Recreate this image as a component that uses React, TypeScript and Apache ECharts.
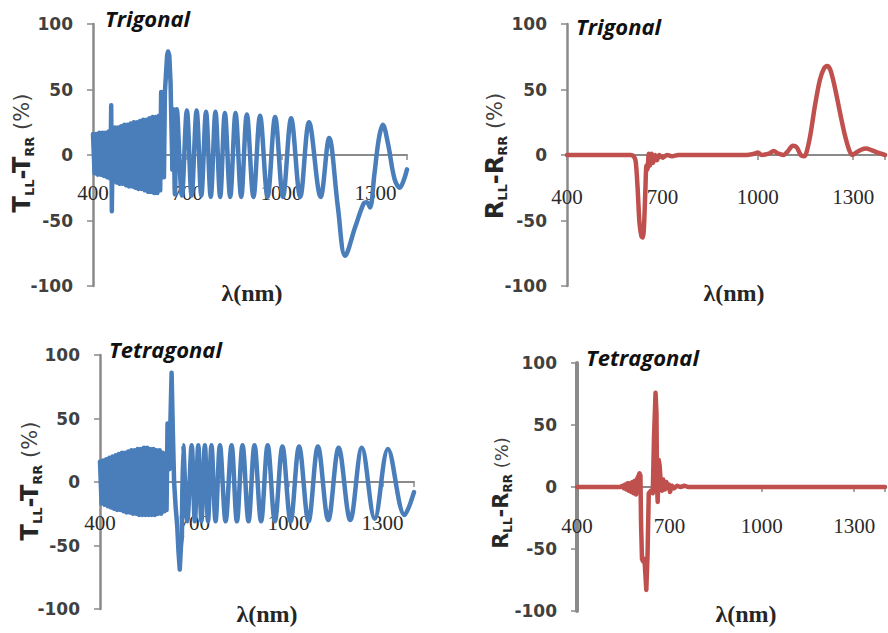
import React, { useEffect, useRef } from 'react';
import * as echarts from 'echarts';

// ---- data ----
const X_TICKS = [400, 700, 1000, 1300];
const Y_TICKS = [-100, -50, 0, 50, 100];
const PANEL_TITLES = ['Trigonal', 'Trigonal', 'Tetragonal', 'Tetragonal'];

// Trigonal transmission difference (dense band part)
const TL_BAND: [number, number][] = [
  [400, 16], [405, -14], [410, 16], [415, -15], [420, 17], [425, -15], [430, 17], [435, -16],
  [440, 17], [445, -17], [450, 18], [455, -18], [458, 38], [460, -43], [463, 20], [466, -20],
  [470, 21], [475, -21], [480, 21], [485, -22], [490, 22], [495, -22], [500, 23], [505, -23],
  [510, 23], [515, -24], [520, 24], [525, -24], [530, 25], [535, -25], [540, 25], [545, -26],
  [550, 26], [555, -26], [560, 27], [565, -27], [570, 27], [575, -28], [580, 28], [585, -28],
  [590, 29], [595, -29], [600, 29], [605, -29], [610, 30], [614, -27], [617, 48], [620, -17],
  [623, 48], [626, -17], [629, 48], [632, 60], [636, 76], [639, 79], [643, 76], [647, 55],
  [650, 20], [653, -11],
];
// Trigonal transmission difference (oscillating part)
const TL_OSC: [number, number][] = [
  [653, -11], [656, 35], [661, -30], [667, 35], [683, -31], [699, 34], [714, -31], [730, 34],
  [745, -31], [760, 33], [775, -32], [790, 33], [805, -32], [820, 32], [837, -32], [854, 32],
  [872, -32], [890, 31], [911, -32], [932, 30], [956, -32], [980, 29], [1005, -32], [1031, 28],
  [1060, -32], [1088, 25], [1125, -32], [1152, 13], [1180, -40], [1203, -77], [1235, -55],
  [1262, -37], [1272, -36], [1282, -40], [1296, -15], [1310, 12], [1323, 23], [1340, 8],
  [1360, -18], [1377, -25], [1390, -19], [1400, -11],
];
// Trigonal reflection difference
const TR_R: [number, number][] = [
  [400, 0], [500, 0], [600, 0], [610, -1], [616, -5], [622, -25], [628, -52], [634, -62],
  [638, -63], [642, -55], [646, -30], [650, -8], [653, -11], [657, 1], [661, -8], [666, 1],
  [671, -6], [677, 0], [683, -4], [690, 0], [700, -2], [715, 0], [730, -1], [750, 0], [900, 0],
  [960, 0], [990, 1], [1000, 2], [1012, 0], [1035, 1], [1050, 3], [1065, 1], [1080, 0],
  [1095, 3], [1110, 7], [1122, 6], [1135, 0], [1145, -1], [1152, 1], [1165, 15], [1180, 38],
  [1195, 57], [1208, 66], [1218, 68], [1228, 65], [1242, 52], [1258, 33], [1273, 16], [1287, 4],
  [1297, 0], [1310, 2], [1325, 4], [1340, 5], [1355, 4], [1375, 2], [1400, 0],
];
// Tetragonal transmission difference (dense band part)
const BL_BAND: [number, number][] = [
  [400, 16], [405, -17], [410, 17], [415, -18], [420, 18], [425, -19], [430, 19], [435, -20],
  [440, 20], [445, -21], [450, 21], [455, -22], [460, 22], [465, -22], [470, 23], [475, -23],
  [480, 23], [485, -24], [490, 24], [495, -24], [500, 25], [505, -25], [510, 25], [515, -25],
  [520, 26], [525, -26], [530, 26], [535, -26], [540, 27], [545, -26], [550, 27], [555, -26],
  [560, 26], [565, -26], [570, 26], [575, -26], [580, 25], [585, -25], [590, 25], [595, -25],
  [600, 23], [605, -23], [608, 21], [612, -22], [615, 46], [618, 40], [621, 10], [624, 45],
  [628, 86], [632, 40], [636, 0], [641, -20], [646, -35], [650, -55], [654, -69], [658, -50],
  [661, -43],
];
// Tetragonal transmission difference (oscillating part)
const BL_OSC: [number, number][] = [
  [661, -43], [665, 29], [678, -31], [692, 29], [702, -31], [713, 29], [723, -31], [734, 29],
  [744, -31], [755, 29], [768, -31], [782, 29], [800, -31], [819, 29], [836, -31], [854, 29],
  [873, -31], [892, 29], [913, -31], [934, 29], [957, -31], [981, 28], [1007, -31], [1034, 28],
  [1064, -31], [1094, 28], [1127, -30], [1160, 27], [1197, -30], [1234, 27], [1275, -29],
  [1317, 26], [1370, -26], [1400, -8],
];
// Tetragonal reflection difference
const BR_R: [number, number][] = [
  [400, 0], [450, 0], [500, 0], [540, 0], [548, 1], [552, -1], [556, 2], [560, -2], [564, 3],
  [568, -3], [572, 3], [576, -4], [580, 4], [584, -5], [588, 5], [592, -6], [596, 7], [600, 9],
  [603, 11], [606, 9], [608, -30], [611, -58], [615, -60], [619, -58], [625, -83], [629, -55],
  [633, -5], [640, -3], [646, -5], [650, 40], [655, 76], [658, 60], [660, 0], [662, -12],
  [665, 22], [668, 18], [672, 4], [676, -3], [680, 6], [685, -2], [690, 4], [695, -1], [699, 2],
  [702, -4], [708, 1], [715, -1], [725, 1], [735, 0], [750, 1], [760, 0], [1400, 0],
];

// ---- layout ----
const GRIDS = [
  { left: 93, top: 24, width: 314, height: 262 },
  { left: 567, top: 24, width: 318, height: 262 },
  { left: 100, top: 355, width: 314, height: 254 },
  { left: 577, top: 363, width: 314, height: 248 },
];
// x labels sit just below the zero line (offset from the grid bottom)
const X_LABEL_MARGIN = [-104, -100, -97, -96];
const BLUE = '#4A7EBB';
const RED = '#C0504D';
const AXIS_GRAY = '#8A8A8A';

export default function App() {
  const ref = useRef<HTMLDivElement>(null);
  useEffect(() => {
    if (!ref.current) return;
    const chart = echarts.init(ref.current, null, { renderer: 'svg' });

    const xAxis = GRIDS.map((_, i) => ({
      type: 'value',
      gridIndex: i,
      min: 400,
      max: 1400,
      interval: 300,
      axisLine: { show: true, onZero: true, lineStyle: { color: AXIS_GRAY, width: 2 } },
      axisTick: { show: true, length: 5, lineStyle: { color: AXIS_GRAY, width: 1.5 } },
      splitLine: { show: false },
      axisLabel: {
        margin: X_LABEL_MARGIN[i],
        fontFamily: 'Liberation Serif',
        fontSize: 21,
        color: '#2a2a2a',
        formatter: (v: number) => (X_TICKS.includes(v) ? String(v) : ''),
      },
    }));
    const yAxis = GRIDS.map((_, i) => ({
      type: 'value',
      gridIndex: i,
      min: -100,
      max: 100,
      interval: 50,
      axisLine: { show: true, onZero: false, lineStyle: { color: AXIS_GRAY, width: i === 3 ? 4 : 2.5 } },
      axisTick: { show: true, length: 6, lineStyle: { color: AXIS_GRAY, width: 1.5 } },
      splitLine: { show: false },
      axisLabel: {
        margin: 20,
        fontFamily: 'DejaVu Sans',
        fontWeight: 'bold',
        fontSize: 17,
        color: '#404040',
        formatter: (v: number) => (Y_TICKS.includes(v) ? String(v) : ''),
      },
    }));

    const lineSeries = (data: [number, number][], idx: number, color: string, smooth: number | boolean) => ({
      type: 'line',
      xAxisIndex: idx,
      yAxisIndex: idx,
      data,
      smooth,
      showSymbol: false,
      symbol: 'none',
      clip: true,
      lineStyle: { color, width: 4.5, join: 'round', cap: 'round' },
    });

    const yTitle = (x: number, y: number, letter: string, big: number) => ({
      type: 'text',
      x,
      y,
      rotation: Math.PI / 2,
      style: {
        text: `{b|${letter}}{s|LL}{b|-${letter}}{s|RR}{p| (%)}`,
        align: 'center',
        verticalAlign: 'middle',
        rich: {
          b: { fontFamily: 'DejaVu Sans', fontWeight: 'bold', fontSize: big, fill: '#262626', lineHeight: big + 4 },
          s: { fontFamily: 'DejaVu Sans', fontWeight: 'bold', fontSize: Math.round(big * 0.56), fill: '#262626', verticalAlign: 'bottom' },
          p: { fontFamily: 'DejaVu Sans', fontWeight: 'normal', fontSize: Math.round(big * 0.88), fill: '#404040' },
        },
      },
    });
    const xTitle = (x: number, y: number) => ({
      type: 'text',
      x,
      y,
      style: {
        text: 'λ(nm)',
        font: 'bold 24px "Liberation Serif"',
        fill: '#262626',
        align: 'center',
        verticalAlign: 'middle',
      },
    });
    const pTitle = (x: number, y: number, t: string) => ({
      type: 'text',
      x,
      y,
      style: {
        text: t,
        font: 'italic bold 22px "Open Sans"',
        fill: '#111',
        align: 'left',
        verticalAlign: 'middle',
      },
    });

    chart.setOption({
      animation: false,
      backgroundColor: '#ffffff',
      grid: GRIDS.map((g) => ({ ...g, containLabel: false })),
      xAxis,
      yAxis,
      series: [
        lineSeries(TL_BAND, 0, BLUE, false),
        lineSeries(TL_OSC, 0, BLUE, 0.35),
        lineSeries(TR_R, 1, RED, 0.3),
        lineSeries(BL_BAND, 2, BLUE, false),
        lineSeries(BL_OSC, 2, BLUE, 0.35),
        lineSeries(BR_R, 3, RED, false),
      ],
      graphic: [
        pTitle(105, 18, PANEL_TITLES[0]),
        pTitle(576, 26, PANEL_TITLES[1]),
        pTitle(109, 349, PANEL_TITLES[2]),
        pTitle(586, 357, PANEL_TITLES[3]),
        xTitle(252, 293),
        xTitle(734, 293),
        xTitle(267, 614),
        xTitle(746, 614),
        yTitle(22, 153, 'T', 24),
        yTitle(495, 156, 'R', 24),
        yTitle(30, 481, 'T', 24),
        yTitle(501, 493, 'R', 21),
      ],
    });
    return () => chart.dispose();
  }, []);
  return (
    <div
      ref={ref}
      style={{ position: 'fixed', left: 0, top: 0, width: 888, height: 633, background: '#fff' }}
    />
  );
}
